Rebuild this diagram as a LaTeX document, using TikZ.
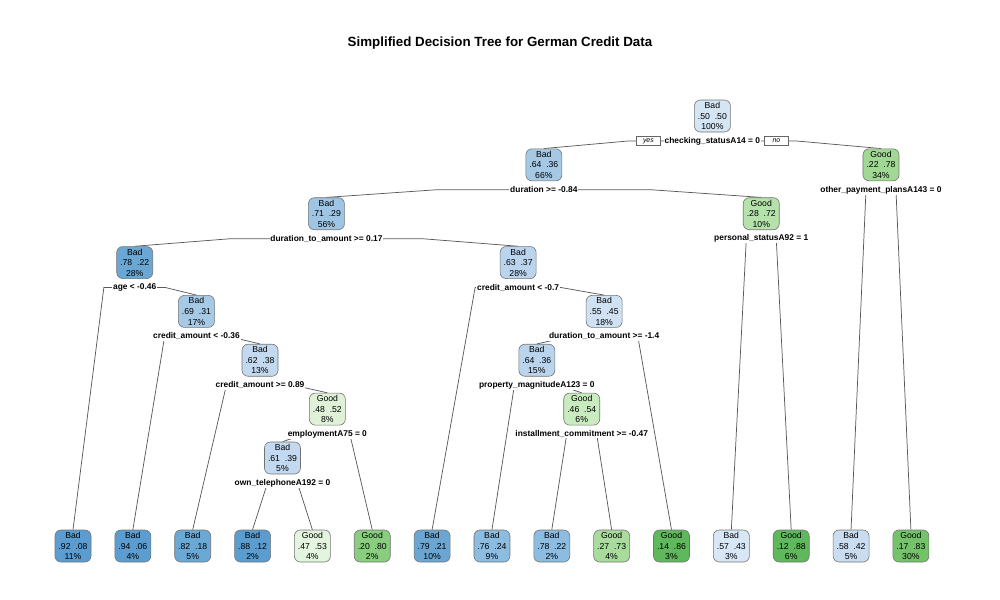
\documentclass[tikz,border=0pt]{standalone}
\usepackage{fontspec}
\setmainfont{Liberation Sans}
\usetikzlibrary{calc,positioning}
\pgfdeclarelayer{bg}
\pgfsetlayers{bg,main}
\definecolor{cA}{HTML}{D4E5F4}
\definecolor{cB}{HTML}{A5C8E4}
\definecolor{cC}{HTML}{A1D893}
\definecolor{cD}{HTML}{9EC5E3}
\definecolor{cE}{HTML}{B5E2AA}
\definecolor{cF}{HTML}{6BA7D4}
\definecolor{cG}{HTML}{BAD4EE}
\definecolor{cH}{HTML}{A6C9E6}
\definecolor{cI}{HTML}{CFE1F3}
\definecolor{cJ}{HTML}{C3D9EF}
\definecolor{cK}{HTML}{DFF2D8}
\definecolor{cL}{HTML}{C9EBC0}
\definecolor{lA}{HTML}{5B9DD0}
\definecolor{lB}{HTML}{6AA8D6}
\definecolor{lC}{HTML}{E4F5DF}
\definecolor{lD}{HTML}{88CE7E}
\definecolor{lE}{HTML}{6BA6D2}
\definecolor{lF}{HTML}{8CBCE0}
\definecolor{lG}{HTML}{A9DB9D}
\definecolor{lH}{HTML}{5FB85B}
\definecolor{lI}{HTML}{D8E7F5}
\definecolor{lJ}{HTML}{C9DCF0}
\definecolor{lK}{HTML}{74C36A}
\tikzset{
 tn/.style={draw=black!55, line width=0.45pt, rounded corners=4.5pt, minimum width=27pt, minimum height=24pt, inner sep=0.5pt, align=center, font=\fontsize{6.5}{7.9}\selectfont, text=black},
 lbl/.style={fill=white, inner sep=0.6pt, font=\bfseries\fontsize{6.3}{7}\selectfont},
 yn/.style={draw=black!60, line width=0.4pt, fill=white, inner sep=0pt, minimum width=18pt, minimum height=6.5pt, font=\itshape\fontsize{5.2}{5.5}\selectfont},
 edge/.style={draw=black!65, line width=0.55pt},
}
\begin{document}
\begin{tikzpicture}[x=0.75pt,y=-0.75pt]
\useasboundingbox (0,0) rectangle (1000,600);
\node[font=\bfseries\fontsize{10}{12}\selectfont] (title) at (500,43) {Simplified Decision Tree for German Credit Data};
% internal nodes
\node[tn, fill=cA] (r1) at (712.41,116) {Bad\\.50~~.50\\100\%};
\node[tn, fill=cB] (r2) at (543.85,164.85) {Bad\\.64~~.36\\66\%};
\node[tn, fill=cC] (r3) at (880.98,164.85) {Good\\.22~~.78\\34\%};
\node[tn, fill=cD] (r4) at (326.43,213.7) {Bad\\.71~~.29\\56\%};
\node[tn, fill=cE] (r5) at (761.28,213.7) {Good\\.28~~.72\\10\%};
\node[tn, fill=cF] (r8) at (134.72,262.55) {Bad\\.78~~.22\\28\%};
\node[tn, fill=cG] (r9) at (518.13,262.55) {Bad\\.63~~.37\\28\%};
\node[tn, fill=cH] (r17) at (196.44,311.4) {Bad\\.69~~.31\\17\%};
\node[tn, fill=cI] (r19) at (604.17,311.4) {Bad\\.55~~.45\\18\%};
\node[tn, fill=cJ] (r34) at (260.03,360.25) {Bad\\.62~~.38\\13\%};
\node[tn, fill=cG] (r38) at (536.84,360.25) {Bad\\.64~~.36\\15\%};
\node[tn, fill=cK] (r69) at (327.36,409.1) {Good\\.48~~.52\\8\%};
\node[tn, fill=cL] (r77) at (581.725,409.1) {Good\\.46~~.54\\6\%};
\node[tn, fill=cJ] (r138) at (282.475,457.95) {Bad\\.61~~.39\\5\%};
% leaves
\node[tn, fill=lA] (l0) at (73.00,546) {Bad\\.92~~.08\\11\%};
\node[tn, fill=lA] (l1) at (132.85,546) {Bad\\.94~~.06\\4\%};
\node[tn, fill=lB] (l2) at (192.70,546) {Bad\\.82~~.18\\5\%};
\node[tn, fill=lA] (l3) at (252.55,546) {Bad\\.88~~.12\\2\%};
\node[tn, fill=lC] (l4) at (312.40,546) {Good\\.47~~.53\\4\%};
\node[tn, fill=lD] (l5) at (372.25,546) {Good\\.20~~.80\\2\%};
\node[tn, fill=lE] (l6) at (432.10,546) {Bad\\.79~~.21\\10\%};
\node[tn, fill=lF] (l7) at (491.95,546) {Bad\\.76~~.24\\9\%};
\node[tn, fill=lF] (l8) at (551.80,546) {Bad\\.78~~.22\\2\%};
\node[tn, fill=lG] (l9) at (611.65,546) {Good\\.27~~.73\\4\%};
\node[tn, fill=lH] (l10) at (671.50,546) {Good\\.14~~.86\\3\%};
\node[tn, fill=lI] (l11) at (731.35,546) {Bad\\.57~~.43\\3\%};
\node[tn, fill=lH] (l12) at (791.20,546) {Good\\.12~~.88\\6\%};
\node[tn, fill=lJ] (l13) at (851.05,546) {Bad\\.58~~.42\\5\%};
\node[tn, fill=lK] (l14) at (910.90,546) {Good\\.17~~.83\\30\%};
% split labels
\node[lbl] (s1) at (712.41,141) {checking\_statusA14 = 0};
\node[lbl] (s2) at (543.85,189.85) {duration >= -0.84};
\node[lbl] (s3) at (880.98,189.85) {other\_payment\_plansA143 = 0};
\node[lbl] (s4) at (326.43,238.7) {duration\_to\_amount >= 0.17};
\node[lbl] (s5) at (761.28,238.7) {personal\_statusA92 = 1};
\node[lbl] (s8) at (134.72,287.55) {age < -0.46};
\node[lbl] (s9) at (518.13,287.55) {credit\_amount < -0.7};
\node[lbl] (s17) at (196.44,336.4) {credit\_amount < -0.36};
\node[lbl] (s19) at (604.17,336.4) {duration\_to\_amount >= -1.4};
\node[lbl] (s34) at (260.03,385.25) {credit\_amount >= 0.89};
\node[lbl] (s38) at (536.84,385.25) {property\_magnitudeA123 = 0};
\node[lbl] (s69) at (327.36,434.1) {employmentA75 = 0};
\node[lbl] (s77) at (581.725,434.1) {installment\_commitment >= -0.47};
\node[lbl] (s138) at (282.475,482.95) {own\_telephoneA192 = 0};
\node[yn, left=2.2pt of s1] (yes) {yes};
\node[yn, right=2.2pt of s1] (no) {no};
% connectors
\begin{pgfonlayer}{bg}
\foreach \s/\c in {s1/r2, s1/r3, s2/r4, s2/r5, s3/l13, s3/l14, s4/r8, s4/r9, s5/l11, s5/l12, s8/l0, s8/r17, s9/l6, s9/r19, s17/l1, s17/r34, s19/r38, s19/l10, s34/l2, s34/r69, s38/l7, s38/r77, s69/r138, s69/l5, s77/l8, s77/l9, s138/l3, s138/l4}
  \draw[edge] (\s.center) -- ($(\s.center)!0.5!(\s.center -| \c.north)$) -- (\c.north);
\end{pgfonlayer}
\end{tikzpicture}
\end{document}
